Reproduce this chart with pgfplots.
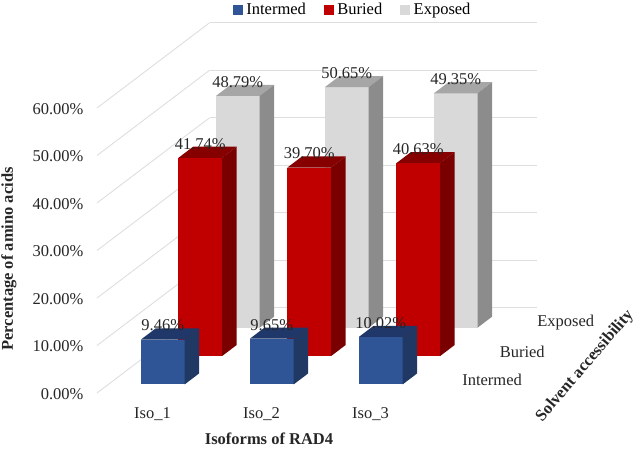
\documentclass[border=0pt]{standalone}
\usepackage{fontspec}
\setmainfont{Liberation Serif}
\usepackage{pgfplots}
\pgfplotsset{compat=1.18}
\definecolor{blueF}{RGB}{47,85,151}
\definecolor{blueT}{RGB}{31,56,105}
\definecolor{blueS}{RGB}{32,56,100}
\definecolor{redF}{RGB}{192,0,0}
\definecolor{redT}{RGB}{135,0,0}
\definecolor{redS}{RGB}{122,0,0}
\definecolor{greyF}{RGB}{217,217,217}
\definecolor{greyT}{RGB}{166,166,166}
\definecolor{greyS}{RGB}{140,140,140}
\definecolor{gridc}{RGB}{222,222,222}

% one box: x start, y start, height, colour prefix
\newcommand{\barbox}[4]{%
  \pgfmathsetmacro{\xa}{#1}%
  \pgfmathsetmacro{\xb}{#1+0.4}%
  \pgfmathsetmacro{\ya}{#2}%
  \pgfmathsetmacro{\yb}{#2+0.39}%
  \edef\temp{%
  \noexpand\addplot3[forget plot, draw=none, fill=#4F] coordinates {(\xa,\ya,0) (\xb,\ya,0) (\xb,\ya,#3) (\xa,\ya,#3)} --cycle;
  \noexpand\addplot3[forget plot, draw=none, fill=#4T] coordinates {(\xa,\ya,#3) (\xb,\ya,#3) (\xb,\yb,#3) (\xa,\yb,#3)} --cycle;
  \noexpand\addplot3[forget plot, draw=none, fill=#4S] coordinates {(\xb,\ya,0) (\xb,\yb,0) (\xb,\yb,#3) (\xb,\ya,#3)} --cycle;
  }\temp
}
\pgfplotsset{vlabels/.style={forget plot, only marks, mark=none, point meta=z,
     nodes near coords={\pgfmathprintnumber[fixed,zerofill,precision=2,assume math mode=true]{\pgfplotspointmeta}\%},
     every node near coord/.style={anchor=center, yshift=14pt, inner sep=0pt, text=black!85, font=\fontsize{16.5}{18}\selectfont}}}

\begin{document}
\begin{tikzpicture}
\path[use as bounding box] (0,0) rectangle (636pt,448pt);
\begin{axis}[
    at={(97pt,55pt)}, anchor=origin,
    x={(109pt,0pt)}, y={(37.5pt,28.4pt)}, z={(0pt,4.75pt)},
    xmin=0, xmax=3, ymin=0, ymax=3, zmin=0, zmax=60,
    clip=false,
    axis line style={draw=none},
    major tick style={draw=none},
    zmajorgrids, grid style={gridc, line width=0.9pt},
    xtick={0.5,1.5,2.5},
    xticklabels={Iso\_1,Iso\_2,Iso\_3},
    ytick={0.5,1.5,2.5},
    yticklabels={Intermed,Buried,Exposed},
    ztick={0,10,...,60},
    zticklabels={0.00\%,10.00\%,20.00\%,30.00\%,40.00\%,50.00\%,60.00\%},
    tick label style={font=\fontsize{16.5}{18}\selectfont, text=black!85},
    xticklabel style={anchor=center, xshift=1pt, yshift=-21pt},
    yticklabel style={anchor=west, xshift=16pt, yshift=-1pt},
    zticklabel style={anchor=east, xshift=-10pt, yshift=-1pt},
    legend columns=3,
    legend style={draw=none, fill=none, font=\fontsize{16.5}{18}\selectfont,
        at={(0.5,1.0)}, anchor=north, xshift=36pt, yshift=24pt,
        /tikz/every even column/.append style={column sep=16pt},
        /tikz/every odd column/.append style={column sep=2pt}},
  ]
  \addlegendimage{legend image code/.code={\fill[blueF] (0pt,-4.5pt) rectangle (9pt,4.5pt);}}
  \addlegendentry{Intermed}
  \addlegendimage{legend image code/.code={\fill[redF] (0pt,-4.5pt) rectangle (9pt,4.5pt);}}
  \addlegendentry{Buried}
  \addlegendimage{legend image code/.code={\fill[greyF] (0pt,-4.5pt) rectangle (9pt,4.5pt);}}
  \addlegendentry{Exposed}

  \addplot3[vlabels] coordinates {(0.5,2.3,48.79) (1.5,2.3,50.65) (2.5,2.3,49.35)};
  \barbox{0.3}{2.3}{48.79}{grey}
  \barbox{1.3}{2.3}{50.65}{grey}
  \barbox{2.3}{2.3}{49.35}{grey}
  \addplot3[vlabels] coordinates {(0.5,1.3,41.74) (1.5,1.3,39.70) (2.5,1.3,40.63)};
  \barbox{0.3}{1.3}{41.74}{red}
  \barbox{1.3}{1.3}{39.70}{red}
  \barbox{2.3}{1.3}{40.63}{red}
  \addplot3[vlabels] coordinates {(0.5,0.3,9.46) (1.5,0.3,9.65) (2.5,0.3,10.02)};
  \barbox{0.3}{0.3}{9.46}{blue}
  \barbox{1.3}{0.3}{9.65}{blue}
  \barbox{2.3}{0.3}{10.02}{blue}
\end{axis}
\node[font=\bfseries\fontsize{16.5}{18}\selectfont, text=black!85] at (269pt,9pt) {Isoforms of RAD4};
\node[font=\bfseries\fontsize{16.5}{18}\selectfont, text=black!85, rotate=90] at (9pt,189pt) {Percentage of amino acids};
\node[font=\bfseries\fontsize{16.5}{18}\selectfont, text=black!85, rotate=49.5] at (585pt,82pt) {Solvent accessibility};
\end{tikzpicture}
\end{document}
